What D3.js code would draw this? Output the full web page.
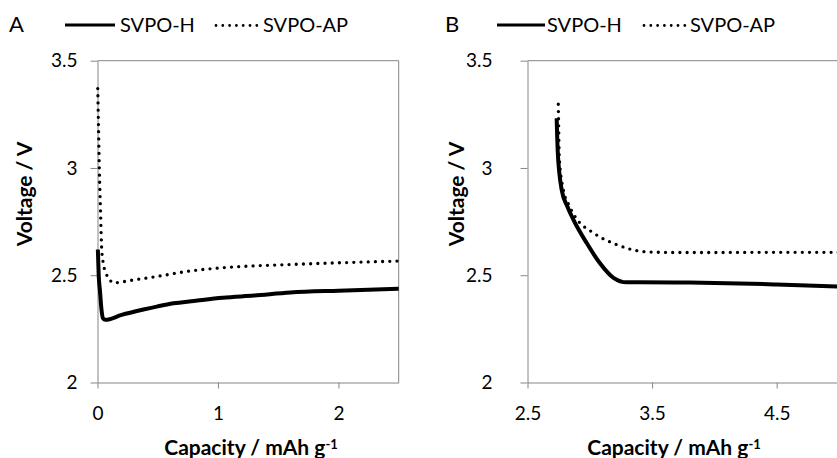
<!DOCTYPE html>
<html>
<head>
<meta charset="utf-8">
<script src="https://cdn.jsdelivr.net/npm/d3@7"></script>
<style>
  body { margin: 0; background: #fff; }
  svg { display: block; font-family: Lato, "Open Sans", sans-serif; }
  .axis path, .axis line { stroke: #868686; stroke-width: 1; }
  .axis text { font-size: 19px; fill: #000; font-family: Lato, sans-serif; }
  .title { font-size: 21px; font-weight: bold; }
  .legend { font-size: 20px; }
</style>
</head>
<body>
<svg width="837" height="458"></svg>
<script>
// Panel A: start of discharge
var capA_H = [0.003, 0.01, 0.02, 0.033, 0.045, 0.065, 0.2, 0.38, 0.5, 0.63, 0.8, 1.04, 1.3, 1.6, 2.0, 2.5];
var voltA_H = [2.62, 2.5, 2.43, 2.34, 2.30, 2.292, 2.315, 2.34, 2.355, 2.369, 2.38, 2.395, 2.405, 2.419, 2.428, 2.437];
var capA_AP = [0.002, 0.008, 0.015, 0.025, 0.035, 0.05, 0.07, 0.1, 0.13, 0.3, 0.49, 0.77, 1.04, 1.6, 2.0, 2.5];
var voltA_AP = [3.37, 3.2, 3.0, 2.8, 2.62, 2.55, 2.51, 2.48, 2.465, 2.478, 2.494, 2.52, 2.535, 2.55, 2.558, 2.566];

// Panel B
var capB_H = [2.734, 2.738, 2.742, 2.755, 2.774, 2.82, 2.868, 2.975, 3.08, 3.19, 3.296, 3.4, 3.8, 4.2, 4.5, 5.0];
var voltB_H = [3.232, 3.15, 3.085, 2.98, 2.899, 2.82, 2.759, 2.65, 2.557, 2.488, 2.467, 2.467, 2.466, 2.462, 2.457, 2.447];
var capB_AP = [2.747, 2.75, 2.755, 2.787, 2.83, 2.88, 3.03, 3.215, 3.456, 3.7, 4.0, 4.5, 5.0];
var voltB_AP = [3.297, 3.2, 3.05, 2.90, 2.83, 2.775, 2.697, 2.643, 2.609, 2.606, 2.606, 2.607, 2.607];

var yTicks = [2, 2.5, 3, 3.5];
var xTicksA = [0, 1, 2];
var xTicksB = [2.5, 3.5, 4.5];
var seriesNames = ["SVPO-H", "SVPO-AP"];

var svg = d3.select("svg");

var y = d3.scaleLinear().domain([2, 3.5]).range([382.5, 60.7]);

function zip(xs, ys) {
  return xs.map(function(v, i) { return [v, ys[i]]; });
}

function panel(opts) {
  var x = d3.scaleLinear().domain(opts.domain).range(opts.range);
  var g = svg.append("g");

  // Frame (top and right)
  g.append("line")
    .attr("x1", x.range()[0]).attr("x2", x.range()[1])
    .attr("y1", y(3.5)).attr("y2", y(3.5))
    .attr("stroke", "#868686");
  g.append("line")
    .attr("x1", x.range()[1]).attr("x2", x.range()[1])
    .attr("y1", y(3.5)).attr("y2", y(2))
    .attr("stroke", "#868686");

  g.append("g")
    .attr("class", "axis")
    .attr("transform", "translate(" + x.range()[0] + ",0)")
    .call(d3.axisLeft(y).tickValues(yTicks).tickSize(7).tickPadding(opts.yPad)
      .tickFormat(d3.format("")).tickSizeOuter(0));

  g.append("g")
    .attr("class", "axis")
    .attr("transform", "translate(0," + y(2) + ")")
    .call(d3.axisBottom(x).tickValues(opts.xTicks).tickSize(6).tickPadding(18)
      .tickFormat(d3.format("")).tickSizeOuter(0));

  var line = d3.line()
    .x(function(d) { return x(d[0]); })
    .y(function(d) { return y(d[1]); })
    .curve(d3.curveMonotoneX);

  g.append("path")
    .datum(zip(opts.apCap, opts.apV))
    .attr("d", line)
    .attr("fill", "none")
    .attr("stroke", "#000")
    .attr("stroke-width", 3.3)
    .attr("stroke-linecap", "round")
    .attr("stroke-dasharray", "0 7.2");

  g.append("path")
    .datum(zip(opts.hCap, opts.hV))
    .attr("d", line)
    .attr("fill", "none")
    .attr("stroke", "#000")
    .attr("stroke-width", 4)
    .attr("stroke-linejoin", "round");

  // Axis titles
  var xt = g.append("text")
    .attr("class", "title")
    .attr("x", opts.xTitleX)
    .attr("y", 455)
    .attr("text-anchor", "middle")
    .text("Capacity / mAh g");
  xt.append("tspan")
    .attr("dy", "-0.45em")
    .attr("font-size", "13px")
    .text("-1");

  g.append("text")
    .attr("class", "title")
    .attr("transform", "translate(" + opts.yTitleX + ",194) rotate(-90)")
    .attr("text-anchor", "middle")
    .attr("dy", "0.35em")
    .text("Voltage / V");

  // Panel letter and legend
  g.append("text")
    .attr("x", opts.letterX)
    .attr("y", 32)
    .attr("font-size", "22px")
    .text(opts.letter);

  var lg = opts.legend;
  g.append("line")
    .attr("x1", lg[0]).attr("x2", lg[1])
    .attr("y1", 25).attr("y2", 25)
    .attr("stroke", "#000").attr("stroke-width", 3);
  g.append("text")
    .attr("class", "legend")
    .attr("x", lg[2]).attr("y", 32)
    .text(seriesNames[0]);
  g.append("line")
    .attr("x1", lg[3]).attr("x2", lg[4])
    .attr("y1", 25.5).attr("y2", 25.5)
    .attr("stroke", "#000").attr("stroke-width", 2.8)
    .attr("stroke-linecap", "round")
    .attr("stroke-dasharray", "0 6.8");
  g.append("text")
    .attr("class", "legend")
    .attr("x", lg[5]).attr("y", 32)
    .text(seriesNames[1]);
}

panel({
  domain: [0, 2.5], range: [97.5, 398.7], xTicks: xTicksA, yPad: 13,
  hCap: capA_H, hV: voltA_H, apCap: capA_AP, apV: voltA_AP,
  xTitleX: 251, yTitleX: 25, letter: "A", letterX: 9,
  legend: [65, 115, 120, 216, 257, 263]
});

panel({
  domain: [2.5, 5], range: [527.5, 839], xTicks: xTicksB, yPad: 28,
  hCap: capB_H, hV: voltB_H, apCap: capB_AP, apV: voltB_AP,
  xTitleX: 674, yTitleX: 457, letter: "B", letterX: 445,
  legend: [497, 545, 547, 644, 687, 690]
});
</script>
</body>
</html>
